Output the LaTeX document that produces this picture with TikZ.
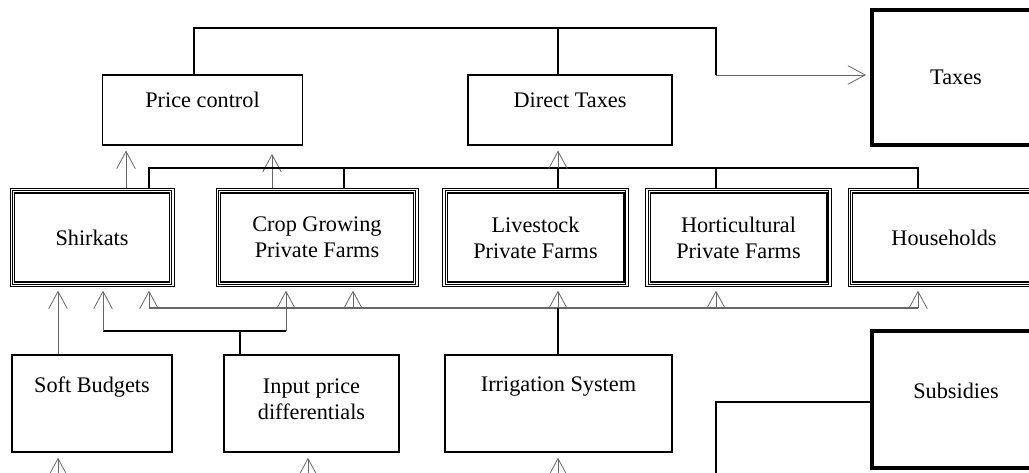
\documentclass[tikz,border=0pt]{standalone}
\usepackage{fontspec}
\setmainfont{Liberation Serif}
\usetikzlibrary{arrows.meta,calc,positioning}

\tikzset{
	plain/.style={draw, line width=1.3pt, inner sep=0pt},
	heavy/.style={draw, line width=3pt, inner sep=0pt},
	farm/.style={draw, line width=0.7pt, inner sep=0pt,
		path picture={
			\draw[line width=0.6pt] ([shift={(1.9pt,-1.9pt)}]path picture bounding box.north west) rectangle ([shift={(-1.9pt,1.9pt)}]path picture bounding box.south east);
			\draw[line width=1.3pt] ([shift={(3.4pt,-3.4pt)}]path picture bounding box.north west) rectangle ([shift={(-3.4pt,3.4pt)}]path picture bounding box.south east);}},
	txt/.style={font=\fontsize{16.7}{19.5}\selectfont, align=center},
	wire/.style={line width=0.9pt},
	stem/.style={line width=1.6pt},
	up/.style={gray!80!black, line width=0.6pt, -{Straight Barb[length=13pt,width=14pt]}}
}

\begin{document}
\begin{tikzpicture}[x=0.75pt, y=-0.75pt]
	\clip (0,0) rectangle (1029,473);
	% top row
	\node[plain, minimum width=150pt, minimum height=52.5pt] (pc) at (202.5,110) {};
	\node[txt] (pc-t) at (202.5,100) {Price control};
	\node[plain, minimum width=153pt, minimum height=52.5pt] (dt) at (570,110) {};
	\node[txt] (dt-t) at (570,100) {Direct Taxes};
	\node[heavy, minimum width=126pt, minimum height=101pt, txt] (taxes) at (956,77.5) {Taxes};
	%%%%%
	\node[farm, minimum width=123pt, minimum height=74pt, txt] (shirkats) at (92,237.5) {Shirkats};
	\node[farm, minimum width=151.5pt, minimum height=74pt, txt] (crop) at (317,237.5) {Crop Growing\\Private Farms};
	\node[farm, minimum width=139pt, minimum height=74pt, txt] (ls) at (535.5,237.5) {Livestock\\Private Farms};
	\node[farm, minimum width=139pt, minimum height=74pt, txt] (hort) at (738.5,237.5) {Horticultural\\Private Farms};
	\node[farm, minimum width=144pt, minimum height=74pt, txt] (hh) at (944,237.5) {Households};
	%%%%%
	\node[plain, minimum width=120pt, minimum height=73pt] (soft) at (92,403.5) {};
	\node[txt] (soft-t) at (92,387) {Soft Budgets};
	\node[plain, minimum width=131pt, minimum height=73pt] (inp) at (311.5,403.5) {};
	\node[txt] (inp-t) at (311.5,399) {Input price\\differentials};
	\node[plain, minimum width=170pt, minimum height=73pt] (irr) at (558.5,403.5) {};
	\node[txt] (irr-t) at (558.5,387) {Irrigation System};
	\node[heavy, minimum width=126pt, minimum height=103pt] (subs) at (956,399.5) {};
	\node[txt] (subs-t) at (956,391) {Subsidies};
	% columns and corners
	\coordinate (jt) at (716,28);
	\coordinate (jt2) at (716,75);
	\coordinate (c-sk) at (126,0);
	\coordinate (c-cg) at (272,0);
	\coordinate (c-ls) at (558,0);
	\coordinate (c-sb) at (58,0);
	\coordinate (c-in) at (240,331);
	\coordinate (b1) at (149,168);
	\coordinate (b2) at (918,168);
	\coordinate (b3) at (149,308);
	\coordinate (b4) at (918,308);
	\coordinate (b5) at (103,331);
	\coordinate (b6) at (286,331);
	\coordinate (s1) at (716,402);
	\coordinate (s2) at (716,490);
	% taxes
	\draw[wire] ([xshift=-6.4pt]pc.north) |- (jt) -- (jt2);
	\draw[wire] (c-ls |- dt.north) -- (c-ls |- jt);
	\draw[up, shorten >=3pt] (jt2) -- (jt2 -| taxes.west);
	\draw[up, shorten >=3.5pt] (c-sk |- shirkats.north) -- (c-sk |- pc.south);
	\draw[up, shorten >=6pt] (c-cg |- crop.north) -- (c-cg |- pc.south);
	\draw[wire] (b1 |- shirkats.north) -- (b1) -- (b2) -- (b2 |- hh.north);
	\foreach \c/\n in {344/crop,716/hort} {
		\coordinate (t) at (\c,168);
		\draw[stem] (t) -- (t |- \n.north);
	}
	\draw[stem] (c-ls |- b1) -- (c-ls |- ls.north);
	\draw[up, shorten >=3.5pt] (c-ls |- b1) -- (c-ls |- dt.south);
	% subsidies
	\draw[up, shorten >=2.5pt] (c-sb |- soft.north) -- (c-sb |- shirkats.south);
	\draw[stem] (c-in |- inp.north) -- (c-in);
	\draw[wire] (b5) -- (b6);
	\draw[up, shorten >=2.5pt] (b5) -- (b5 |- shirkats.south);
	\draw[up, shorten >=2.5pt] (b6) -- (b6 |- crop.south);
	\draw[wire, gray!80!black] (b3) -- (b4);
	\foreach \c/\n in {149/shirkats,353/crop,558/ls,716/hort,918/hh} {
		\coordinate (t) at (\c,308);
		\draw[up, shorten >=2.5pt] (t) -- (t |- \n.south);
	}
	\draw[stem] (c-ls |- irr.north) -- (c-ls |- b3);
	\draw[wire] (subs.west |- s1) -- (s1) -- (s2);
	\foreach \c/\n in {58/soft,308/inp,558/irr} {
		\coordinate (t) at (\c,490);
		\draw[up, shorten >=3.5pt] (t) -- (t |- \n.south);
	}
\end{tikzpicture}
\end{document}
